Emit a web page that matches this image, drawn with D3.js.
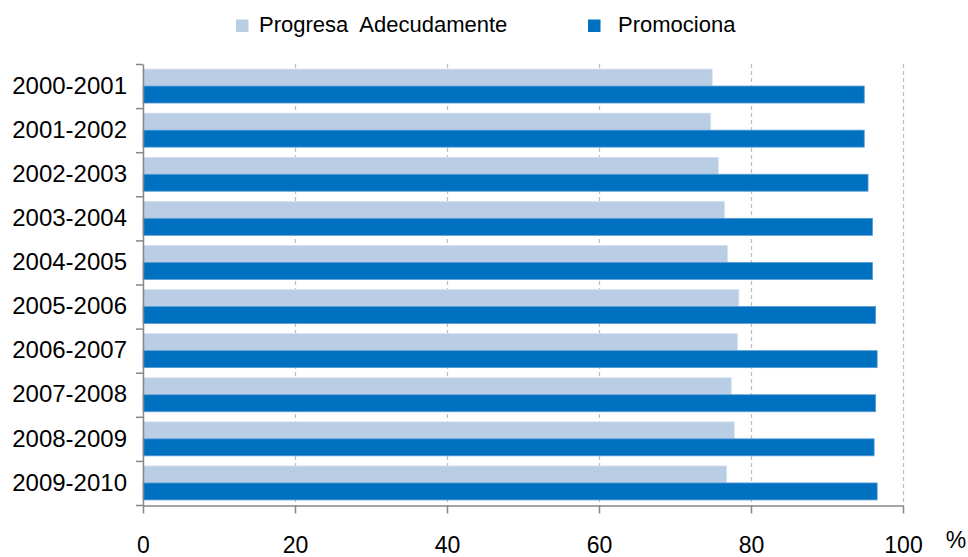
<!DOCTYPE html>
<html>
<head>
<meta charset="utf-8">
<script src="https://cdn.jsdelivr.net/npm/d3@7/dist/d3.min.js"></script>
<style>
  body { margin: 0; background: #fff; }
  svg { display: block; font-family: "Liberation Sans", Arial, sans-serif; }
</style>
</head>
<body>
<svg id="chart" width="968" height="557"></svg>
<script>
// datos
const cursos = ['2000-2001', '2001-2002', '2002-2003', '2003-2004', '2004-2005',
                '2005-2006', '2006-2007', '2007-2008', '2008-2009', '2009-2010'];
const progresa = [74.9, 74.7, 75.7, 76.5, 76.9, 78.4, 78.2, 77.4, 77.8, 76.8];
const promociona = [94.9, 94.9, 95.4, 96.0, 96.0, 96.4, 96.6, 96.4, 96.2, 96.6];
const xTicks = [0, 20, 40, 60, 80, 100];
const series = ['Progresa  Adecudamente', 'Promociona'];
const colores = ['#B9CDE5', '#0070C0'];

const svg = d3.select('#chart');
const margin = {left: 143, right: 65, top: 64, bottom: 52};
const width = 968, height = 557;

// escalas
const x = d3.scaleLinear().domain([0, 100]).range([margin.left, width - margin.right]);
const y = d3.scaleBand().domain(cursos)
    .range([margin.top, height - margin.bottom])
    .paddingInner(0.23).paddingOuter(0.115);

// líneas de división (punteadas)
svg.append('g')
    .selectAll('line')
    .data(xTicks.slice(1))
    .join('line')
    .attr('x1', d => x(d) + 0.5).attr('x2', d => x(d) + 0.5)
    .attr('y1', margin.top).attr('y2', height - margin.bottom)
    .attr('stroke', '#BFBFBF')
    .attr('stroke-width', 1.3)
    .attr('stroke-dasharray', '4,3');

// barras
const grupo = svg.append('g');
const half = y.bandwidth() / 2;
grupo.selectAll('rect.prog')
    .data(cursos)
    .join('rect')
    .attr('class', 'prog')
    .attr('x', x(0))
    .attr('y', d => y(d))
    .attr('width', (d, i) => x(progresa[i]) - x(0))
    .attr('height', half)
    .attr('fill', colores[0])
    .attr('stroke', '#D4E1F0')
    .attr('stroke-width', 0.8);
grupo.selectAll('rect.prom')
    .data(cursos)
    .join('rect')
    .attr('class', 'prom')
    .attr('x', x(0))
    .attr('y', d => y(d) + half)
    .attr('width', (d, i) => x(promociona[i]) - x(0))
    .attr('height', half)
    .attr('fill', colores[1])
    .attr('stroke', '#5A9BD5')
    .attr('stroke-width', 0.8);

// eje x
const xAxis = svg.append('g')
    .attr('transform', `translate(0,${height - margin.bottom + 0.5})`)
    .call(d3.axisBottom(x).tickValues(xTicks).tickSize(8).tickSizeOuter(0).tickPadding(0));
xAxis.select('.domain').attr('stroke', '#868686').attr('stroke-width', 1.5);
xAxis.selectAll('.tick line').attr('stroke', '#868686').attr('stroke-width', 1.5);
xAxis.selectAll('.tick text')
    .attr('y', 47).attr('dy', 0)
    .attr('font-size', 23)
    .attr('font-family', '"Liberation Sans", Arial, sans-serif')
    .attr('fill', '#000');

svg.append('text')
    .attr('x', 956).attr('y', 548)
    .attr('text-anchor', 'middle')
    .attr('font-size', 23)
    .text('%');

// eje y
const yAxis = svg.append('g')
    .attr('transform', `translate(${margin.left},0)`)
    .call(d3.axisLeft(y).tickSize(0).tickSizeOuter(0).tickPadding(16));
yAxis.select('.domain').attr('stroke', '#868686').attr('stroke-width', 1.5);
yAxis.selectAll('.tick text')
    .attr('font-size', 24)
    .attr('font-family', '"Liberation Sans", Arial, sans-serif')
    .attr('fill', '#000');

// marcas entre categorías
const bordes = cursos.map(c => y(c) - y.step() * y.paddingInner() / 2);
bordes.push(height - margin.bottom);
svg.append('g')
    .selectAll('line')
    .data(bordes)
    .join('line')
    .attr('x1', margin.left - 7).attr('x2', margin.left)
    .attr('y1', d => d + 0.5).attr('y2', d => d + 0.5)
    .attr('stroke', '#868686')
    .attr('stroke-width', 1.5);

// leyenda
const leyX = [236, 588];
const leyenda = svg.append('g');
series.forEach(function (s, i) {
    leyenda.append('rect')
        .attr('x', leyX[i]).attr('y', 19.5)
        .attr('width', 12.5).attr('height', 12.5)
        .attr('fill', colores[i]);
    leyenda.append('text')
        .attr('x', leyX[i] + (i === 0 ? 23 : 30)).attr('y', 32)
        .attr('font-size', 22)
        .style('white-space', 'pre')
        .text(s);
});
</script>
</body>
</html>
